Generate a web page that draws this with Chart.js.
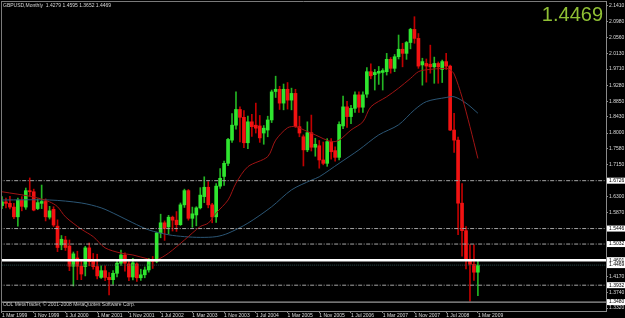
<!DOCTYPE html>
<html>
<head>
<meta charset="utf-8">
<script src="https://cdn.jsdelivr.net/npm/chart.js@4.4.1/dist/chart.umd.min.js"></script>
<style>
  html, body { margin: 0; padding: 0; background: #000; }
  #chart { display: block; background: #000; }
</style>
</head>
<body>
<canvas id="chart" width="625" height="318"></canvas>
<script>
// GBPUSD monthly, Mar 1999 .. Mar 2009 (one candle per month, index 0 = Mar 1999)
const opens = [
  1.606, 1.616, 1.612, 1.602, 1.576, 1.620, 1.602, 1.646, 1.643, 1.598,
  1.612, 1.617, 1.575, 1.596, 1.551, 1.501, 1.514, 1.498, 1.444, 1.466,
  1.444, 1.443, 1.493, 1.460, 1.443, 1.414, 1.432, 1.414, 1.408, 1.425,
  1.452, 1.474, 1.450, 1.415, 1.450, 1.413, 1.421, 1.434, 1.460, 1.457,
  1.533, 1.560, 1.549, 1.575, 1.567, 1.555, 1.608, 1.646, 1.572, 1.581,
  1.600, 1.630, 1.655, 1.608, 1.576, 1.658, 1.684, 1.719, 1.781, 1.821,
  1.863, 1.842, 1.774, 1.830, 1.821, 1.819, 1.800, 1.808, 1.835, 1.911,
  1.917, 1.880, 1.917, 1.888, 1.906, 1.817, 1.790, 1.755, 1.801, 1.762,
  1.766, 1.728, 1.719, 1.777, 1.753, 1.735, 1.819, 1.870, 1.844, 1.866,
  1.902, 1.869, 1.904, 1.964, 1.956, 1.960, 1.962, 1.964, 1.997, 1.973,
  2.004, 2.024, 2.013, 2.042, 2.077, 2.053, 1.982, 1.986, 1.984, 1.977,
  1.986, 1.970, 1.991, 1.979, 1.808, 1.781, 1.6125, 1.539, 1.462, 1.449,
  1.4279
];
const highs = [
  1.630, 1.626, 1.631, 1.612, 1.626, 1.630, 1.653, 1.680, 1.650, 1.624,
  1.661, 1.624, 1.604, 1.603, 1.568, 1.526, 1.524, 1.514, 1.482, 1.484,
  1.458, 1.497, 1.506, 1.478, 1.476, 1.445, 1.445, 1.427, 1.432, 1.460,
  1.487, 1.480, 1.460, 1.465, 1.453, 1.436, 1.442, 1.465, 1.470, 1.535,
  1.583, 1.565, 1.580, 1.578, 1.590, 1.613, 1.650, 1.649, 1.602, 1.603,
  1.654, 1.683, 1.670, 1.612, 1.665, 1.705, 1.725, 1.786, 1.852, 1.910,
  1.870, 1.860, 1.845, 1.850, 1.880, 1.847, 1.820, 1.845, 1.915, 1.952,
  1.925, 1.931, 1.935, 1.920, 1.917, 1.845, 1.795, 1.830, 1.848, 1.786,
  1.780, 1.776, 1.785, 1.785, 1.763, 1.830, 1.899, 1.885, 1.874, 1.910,
  1.910, 1.910, 1.975, 1.985, 1.970, 1.978, 1.972, 2.013, 2.002, 2.010,
  2.062, 2.040, 2.045, 2.080, 2.111, 2.066, 2.000, 1.998, 2.035, 2.003,
  1.990, 1.995, 2.013, 1.982, 1.853, 1.789, 1.665, 1.550, 1.502, 1.501,
  1.4595
];
const lows = [
  1.598, 1.600, 1.597, 1.571, 1.551, 1.592, 1.596, 1.632, 1.592, 1.595,
  1.598, 1.565, 1.570, 1.550, 1.483, 1.488, 1.486, 1.432, 1.391, 1.408,
  1.408, 1.418, 1.445, 1.436, 1.410, 1.411, 1.405, 1.367, 1.395, 1.415,
  1.446, 1.431, 1.405, 1.407, 1.403, 1.406, 1.413, 1.428, 1.438, 1.453,
  1.520, 1.513, 1.530, 1.538, 1.537, 1.553, 1.601, 1.567, 1.548, 1.552,
  1.597, 1.614, 1.600, 1.560, 1.561, 1.652, 1.660, 1.713, 1.775, 1.810,
  1.776, 1.761, 1.758, 1.791, 1.800, 1.775, 1.770, 1.790, 1.828, 1.895,
  1.863, 1.862, 1.864, 1.862, 1.815, 1.790, 1.712, 1.750, 1.752, 1.738,
  1.706, 1.715, 1.711, 1.730, 1.725, 1.728, 1.812, 1.815, 1.825, 1.855,
  1.855, 1.855, 1.895, 1.945, 1.915, 1.930, 1.915, 1.955, 1.960, 1.964,
  1.998, 1.977, 1.997, 2.025, 2.040, 1.973, 1.928, 1.936, 1.960, 1.933,
  1.933, 1.935, 1.970, 1.806, 1.748, 1.528, 1.471, 1.437, 1.3503, 1.406,
  1.3652
];
const closes = [
  1.616, 1.612, 1.602, 1.576, 1.621, 1.604, 1.646, 1.643, 1.594, 1.614,
  1.617, 1.576, 1.592, 1.554, 1.494, 1.516, 1.494, 1.444, 1.477, 1.444,
  1.423, 1.493, 1.456, 1.443, 1.418, 1.432, 1.414, 1.408, 1.425, 1.452,
  1.474, 1.452, 1.415, 1.453, 1.413, 1.421, 1.434, 1.460, 1.457, 1.533,
  1.560, 1.545, 1.575, 1.567, 1.555, 1.608, 1.646, 1.572, 1.584, 1.600,
  1.634, 1.655, 1.608, 1.576, 1.658, 1.679, 1.719, 1.783, 1.821, 1.863,
  1.842, 1.774, 1.830, 1.817, 1.813, 1.787, 1.813, 1.835, 1.910, 1.917,
  1.880, 1.917, 1.888, 1.906, 1.817, 1.800, 1.755, 1.801, 1.762, 1.770,
  1.728, 1.719, 1.777, 1.750, 1.735, 1.823, 1.870, 1.844, 1.866, 1.902,
  1.869, 1.902, 1.964, 1.953, 1.962, 1.965, 1.967, 1.997, 1.973, 2.004,
  2.024, 2.013, 2.042, 2.077, 2.053, 1.979, 1.991, 1.979, 1.977, 1.986,
  1.977, 1.991, 1.979, 1.808, 1.781, 1.6125, 1.539, 1.460, 1.449, 1.4279,
  1.4469
];

// moving averages (month index -> price)
const redMaMonths = [0, 8, 12, 14, 16, 20, 23, 26, 30, 33, 37, 39, 42, 46, 50, 52, 54, 57, 59, 62, 67, 69, 72, 74, 77, 79, 83, 85, 88, 91, 93, 97, 100, 103, 105, 107, 112, 113, 114, 116, 118, 120];
const redMaValues = [1.643, 1.629, 1.616, 1.603, 1.576, 1.543, 1.523, 1.493, 1.479, 1.474, 1.463, 1.461, 1.479, 1.514, 1.550, 1.559, 1.586, 1.621, 1.666, 1.710, 1.737, 1.781, 1.814, 1.817, 1.804, 1.795, 1.777, 1.781, 1.808, 1.830, 1.870, 1.897, 1.920, 1.946, 1.964, 1.969, 1.973, 1.969, 1.958, 1.896, 1.817, 1.732];
const blueMaMonths = [0, 12, 20, 25, 29, 33, 37, 42, 46, 50, 54, 57, 62, 68, 73, 78, 80, 85, 90, 95, 100, 104, 107, 112, 114, 117, 120];
const blueMaValues = [1.621, 1.621, 1.613, 1.600, 1.581, 1.560, 1.541, 1.528, 1.523, 1.521, 1.523, 1.532, 1.559, 1.603, 1.648, 1.674, 1.683, 1.719, 1.755, 1.795, 1.822, 1.862, 1.884, 1.895, 1.897, 1.880, 1.853];

// axis labels
const dateTickMonths = [0, 8, 16, 24, 32, 40, 48, 56, 64, 72, 80, 88, 96, 104, 112, 120];
const dateTickLabels = ['1 Mar 1999', '1 Nov 1999', '1 Jul 2000', '1 Mar 2001', '1 Nov 2001', '1 Jul 2002', '1 Mar 2003', '1 Nov 2003', '1 Jul 2004', '1 Mar 2005', '1 Nov 2005', '1 Jul 2006', '1 Mar 2007', '1 Nov 2007', '1 Jul 2008', '1 Mar 2009'];
const priceTicks = [2.1410, 2.0980, 2.0560, 2.0130, 1.9710, 1.9280, 1.8850, 1.8430, 1.8000, 1.7580, 1.7150, 1.6720, 1.6300, 1.5870, 1.5450, 1.5020, 1.4590, 1.4170, 1.3740, 1.3320];

// horizontal line objects
const dashDotLevels = [1.6726, 1.5446, 1.5032, 1.3932];
const whiteLevel = 1.4601;
const bidLevel = 1.4469;
const greyLevel = 1.3480;
const markedPrices = [1.6726, 1.5446, 1.5032, 1.4601, 1.4469, 1.3932, 1.3480];

const titleText = 'GBPUSD,Monthly  1.4279 1.4595 1.3652 1.4469';
const bigPrice = '1.4469';
const copyrightText = 'ODL MetaTrader, \u00a9 2001-2008 MetaQuotes Software Corp.';

const bullBody = '#2fe62f', bearBody = '#f21212';
const bullWick = '#23b523', bearWick = '#c00000';
const smallFont = { family: 'Liberation Sans', size: 5 };

const isBull = i => closes[i] >= opens[i];
const wickData = opens.map((o, i) => ({ x: i, y: [lows[i], highs[i]] }));
const bodyData = opens.map((o, i) => ({ x: i, y: [o, closes[i]] }));

function hline(value, color, width, dash) {
  return {
    type: 'line',
    data: [{ x: -5, y: value }, { x: 200, y: value }],
    borderColor: color,
    borderWidth: width,
    borderDash: dash,
    pointRadius: 0,
    order: 0
  };
}

const mtDecor = {
  id: 'mtDecor',
  beforeDraw(chart) {
    const c = chart.ctx;
    c.save();
    c.fillStyle = '#000';
    c.fillRect(0, 0, chart.width, chart.height);
    c.restore();
  },
  afterDraw(chart) {
    const c = chart.ctx;
    const a = chart.chartArea;
    const y = chart.scales.y;
    c.save();
    // frame
    c.strokeStyle = '#7a7a7a';
    c.lineWidth = 1;
    c.beginPath();
    c.moveTo(a.left, a.top + 0.5); c.lineTo(a.right, a.top + 0.5);
    c.moveTo(a.left + 0.5, a.top); c.lineTo(a.left + 0.5, a.bottom);
    c.stroke();

    // title + copyright
    c.font = '5px "Liberation Sans"';
    c.textBaseline = 'middle';
    c.textAlign = 'left';
    c.fillStyle = '#d8d8d8';
    c.fillText(titleText, 3, 5.7);
    c.fillStyle = '#c8c8c8';
    c.fillText(copyrightText, 3, 305);

    // big last price
    c.font = '20px "Liberation Sans"';
    c.textAlign = 'right';
    c.textBaseline = 'alphabetic';
    c.fillStyle = '#8fbf34';
    c.fillText(bigPrice, 603, 21);

    // marked prices on the axis
    c.font = '5px "Liberation Sans"';
    c.textAlign = 'left';
    c.textBaseline = 'middle';
    markedPrices.forEach(p => {
      const py = y.getPixelForValue(p);
      c.fillStyle = '#ffffff';
      c.fillRect(a.right + 1, py - 3, 625 - a.right - 1, 6);
      c.fillStyle = '#000000';
      c.fillText(p.toFixed(4), a.right + 3, py);
    });
    c.restore();
  }
};

const ctx = document.getElementById('chart').getContext('2d');
const chart = new Chart(ctx, {
  type: 'bar',
  data: {
    datasets: [
      ...dashDotLevels.map(v => hline(v, '#a6a6a6', 1, [4, 1.5, 1, 1.5])),
      hline(whiteLevel, '#ffffff', 2.5, []),
      hline(bidLevel, '#2c4c4c', 1, [1, 1]),
      hline(greyLevel, '#9a9a9a', 1.2, []),
      {
        type: 'line',
        data: redMaMonths.map((m, k) => ({ x: m, y: redMaValues[k] })),
        borderColor: '#a01414',
        borderWidth: 1,
        pointRadius: 0,
        tension: 0.3,
        order: 1
      },
      {
        type: 'line',
        data: blueMaMonths.map((m, k) => ({ x: m, y: blueMaValues[k] })),
        borderColor: '#2b5675',
        borderWidth: 1,
        pointRadius: 0,
        tension: 0.3,
        order: 1
      },
      {
        data: bodyData,
        backgroundColor: bodyData.map((d, i) => isBull(i) ? bullBody : bearBody),
        barThickness: 3,
        minBarLength: 1,
        grouped: false,
        order: 2
      },
      {
        data: wickData,
        backgroundColor: wickData.map((d, i) => isBull(i) ? bullWick : bearWick),
        barThickness: 1,
        grouped: false,
        order: 3
      }
    ]
  },
  options: {
    responsive: false,
    animation: false,
    layout: { padding: { left: 1, top: 1, right: 0, bottom: 0 } },
    plugins: { legend: { display: false }, tooltip: { enabled: false } },
    scales: {
      x: {
        type: 'linear',
        offset: false,
        min: -0.252,
        max: 152.3,
        grid: { offset: false, drawOnChartArea: false, drawTicks: true, tickLength: 2, color: '#8a8a8a' },
        border: { display: true, color: '#8a8a8a' },
        ticks: {
          align: 'start',
          padding: 0,
          autoSkip: false,
          maxRotation: 0,
          color: '#dcdcdc',
          font: smallFont,
          callback: v => dateTickLabels[dateTickMonths.indexOf(v)] || ''
        },
        afterBuildTicks: s => { s.ticks = dateTickMonths.map(v => ({ value: v })); },
        afterFit: s => { s.height = 7; s.paddingLeft = 0; s.paddingRight = 0; }
      },
      y: {
        position: 'right',
        min: 1.3242,
        max: 2.1530,
        grid: { drawOnChartArea: false, tickLength: 2, color: '#8a8a8a' },
        border: { display: true, color: '#8a8a8a' },
        ticks: {
          padding: 1,
          color: '#dcdcdc',
          font: smallFont,
          callback: v => v.toFixed(4)
        },
        afterBuildTicks: s => { s.ticks = priceTicks.map(v => ({ value: v })); },
        afterFit: s => { s.width = 19; s.paddingTop = 0; s.paddingBottom = 0; }
      }
    }
  },
  plugins: [mtDecor]
});
</script>
</body>
</html>
